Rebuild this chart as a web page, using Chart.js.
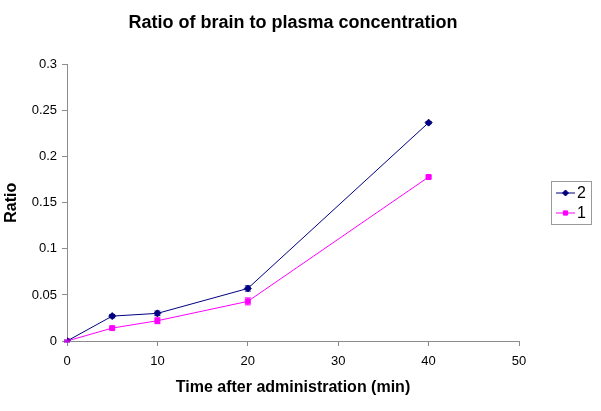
<!DOCTYPE html>
<html>
<head>
<meta charset="utf-8">
<script src="https://cdn.jsdelivr.net/npm/chart.js@4"></script>
<style>
  html, body { margin: 0; padding: 0; background: #fff; }
  #wrap { width: 601px; height: 411px; }
</style>
</head>
<body>
<div id="wrap"><canvas id="ratioChart" width="601" height="411"></canvas></div>
<script>
// dados
const tempos = [0, 5, 10, 20, 40];
const serie2 = [0, 0.027, 0.030, 0.057, 0.237];
const serie1 = [0, 0.014, 0.022, 0.043, 0.178];
const erro2 = [0.001, 0.0018, 0.0025, 0.0028, 0.0012];
const erro1 = [0.001, 0.0012, 0.0032, 0.0038, 0.0012];
const xTicks = [0, 10, 20, 30, 40, 50];
const yTicks = [0, 0.05, 0.1, 0.15, 0.2, 0.25, 0.3];
const legendNames = ['2', '1'];

const NAVY = '#000080';
const MAGENTA = '#FF00FF';
const AXIS = '#8c8c8c';
const FONT = "'Liberation Sans', Arial, sans-serif";

function pontos(ys) {
    return tempos.map((t, i) => ({ x: t, y: ys[i] }));
}

// barras de erro desenhadas pelas escalas
const errorBars = {
    id: 'errorBars',
    afterDatasetsDraw(chart) {
        const { ctx, scales } = chart;
        const erros = [erro2, erro1];
        chart.data.datasets.forEach((ds, d) => {
            ctx.save();
            ctx.strokeStyle = ds.borderColor;
            ctx.lineWidth = 1;
            ds.data.forEach((p, i) => {
                const px = scales.x.getPixelForValue(p.x);
                const y1 = scales.y.getPixelForValue(p.y + erros[d][i]);
                const y2 = scales.y.getPixelForValue(p.y - erros[d][i]);
                ctx.beginPath();
                ctx.moveTo(px, y1); ctx.lineTo(px, y2);
                ctx.moveTo(px - 3, y1); ctx.lineTo(px + 3, y1);
                ctx.moveTo(px - 3, y2); ctx.lineTo(px + 3, y2);
                ctx.stroke();
            });
            ctx.restore();
        });
    }
};

// legenda com moldura, estilo Excel
const boxLegend = {
    id: 'boxLegend',
    afterDraw(chart) {
        const { ctx } = chart;
        const x0 = 551, y0 = 181, w = 40, h = 43;
        ctx.save();
        ctx.strokeStyle = '#9a9a9a';
        ctx.lineWidth = 1;
        ctx.strokeRect(x0 + 0.5, y0 + 0.5, w, h);
        const cores = [NAVY, MAGENTA];
        const estilos = ['rectRot', 'rect'];
        legendNames.forEach((nome, i) => {
            const cy = y0 + 12 + i * 20;
            ctx.strokeStyle = cores[i];
            ctx.fillStyle = cores[i];
            ctx.beginPath();
            ctx.moveTo(x0 + 5, cy); ctx.lineTo(x0 + 24, cy);
            ctx.stroke();
            Chart.helpers.drawPoint(ctx, { pointStyle: estilos[i], radius: 3, borderWidth: 1 }, x0 + 14.5, cy);
            ctx.fillStyle = '#000';
            ctx.font = '16px ' + FONT;
            ctx.textBaseline = 'middle';
            ctx.fillText(nome, x0 + 26, cy + 1);
        });
        ctx.restore();
    }
};

const ctxRatio = document.getElementById('ratioChart').getContext('2d');
new Chart(ctxRatio, {
    type: 'scatter',
    data: {
        datasets: [
            {
                label: legendNames[0],
                data: pontos(serie2),
                showLine: true,
                borderColor: NAVY,
                backgroundColor: NAVY,
                borderWidth: 1,
                pointStyle: 'rectRot',
                pointRadius: 3.5,
                pointHoverRadius: 3.5
            },
            {
                label: legendNames[1],
                data: pontos(serie1),
                showLine: true,
                borderColor: MAGENTA,
                backgroundColor: MAGENTA,
                borderWidth: 1,
                pointStyle: 'rect',
                pointRadius: 3.5,
                pointHoverRadius: 3.5
            }
        ]
    },
    options: {
        responsive: false,
        animation: false,
        layout: { padding: { left: 0, right: 82, top: 0, bottom: 0 } },
        plugins: {
            legend: { display: false },
            tooltip: { enabled: false },
            title: {
                display: true,
                fullSize: false,
                text: 'Ratio of brain to plasma concentration',
                color: '#000',
                font: { family: FONT, size: 18, weight: 'bold' },
                padding: { top: 12, bottom: 31 }
            }
        },
        scales: {
            x: {
                type: 'linear',
                min: 0, max: 50,
                afterBuildTicks: axis => { axis.ticks = xTicks.map(v => ({ value: v })); },
                afterFit: axis => { axis.height = 70; },
                grid: { drawOnChartArea: false, color: AXIS, tickLength: 5 },
                border: { color: AXIS },
                ticks: { color: '#000', font: { family: FONT, size: 13 }, padding: 8 },
                title: {
                    display: true,
                    text: 'Time after administration (min)',
                    color: '#000',
                    font: { family: FONT, size: 16, weight: 'bold' },
                    padding: { top: 4, bottom: 14 }
                }
            },
            y: {
                type: 'linear',
                min: 0, max: 0.3,
                afterBuildTicks: axis => { axis.ticks = yTicks.map(v => ({ value: v })); },
                afterFit: axis => { axis.width = 67; },
                grid: { drawOnChartArea: false, color: AXIS, tickLength: 5 },
                border: { color: AXIS },
                ticks: {
                    color: '#000',
                    font: { family: FONT, size: 13 },
                    padding: 5,
                    callback: v => String(Math.round(v * 100) / 100)
                },
                title: {
                    display: true,
                    text: 'Ratio',
                    color: '#000',
                    font: { family: FONT, size: 16, weight: 'bold' },
                    padding: 2
                }
            }
        }
    },
    plugins: [errorBars, boxLegend]
});
</script>
</body>
</html>
